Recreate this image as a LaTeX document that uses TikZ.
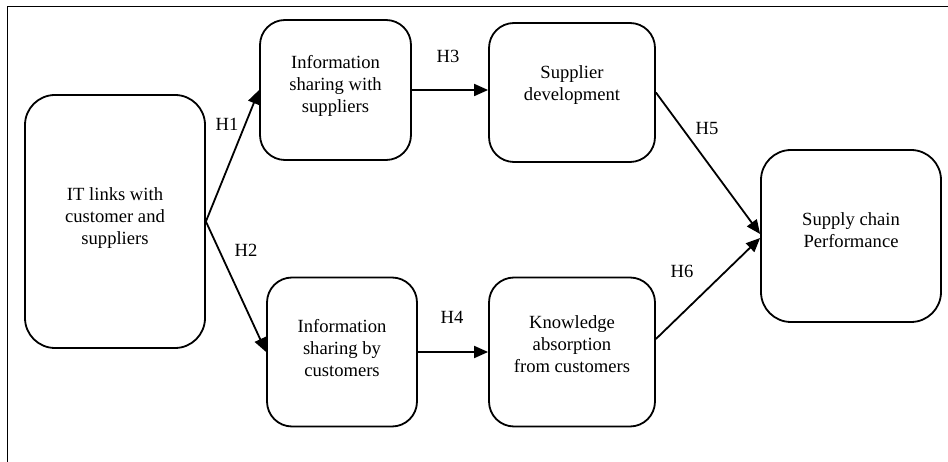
\documentclass[tikz,border=0pt]{standalone}
\usepackage{fontspec}
\setmainfont{Liberation Serif}
\usetikzlibrary{arrows.meta}
\tikzset{
  box/.style={draw, line width=1.8pt, rounded corners=25pt, inner sep=0pt},
  txt/.style={align=center, font=\fontsize{18.6}{22}\selectfont, inner sep=0pt},
  hlab/.style={font=\fontsize{18.6}{22}\selectfont, inner sep=0pt},
  conn/.style={line width=1.8pt, -{Triangle[length=14pt,width=12pt]}},
  frameline/.style={line width=1pt}
}
\begin{document}
\begin{tikzpicture}[x=1pt,y=-1pt]
\useasboundingbox (0,0) rectangle (948,462);
% frame
\coordinate (f1) at (7.5,462);
\coordinate (f2) at (7.5,6.5);
\coordinate (f3) at (948,6.5);
\draw[frameline] (f1) -- (f2) -- (f3);
% boxes
\node[box, rounded corners=30pt, minimum width=180pt, minimum height=253pt] (A) at (115,221.5) {};
\node[txt] (At) at (115,218) {IT links with\\customer and\\suppliers};
\node[box, minimum width=151pt, minimum height=140pt] (B) at (335.5,90) {};
\node[txt] (Bt) at (335.5,86) {Information\\sharing with\\suppliers};
\node[box, minimum width=150pt, minimum height=149pt] (C) at (342,352) {};
\node[txt] (Ct) at (342,348) {Information\\sharing by\\customers};
\node[box, minimum width=166pt, minimum height=139pt] (D) at (572,92.5) {};
\node[txt] (Dt) at (572,85) {Supplier\\development};
\node[box, minimum width=166pt, minimum height=149pt] (E) at (572,352) {};
\node[txt] (Et) at (572,344) {Knowledge\\absorption\\from customers};
\node[box, rounded corners=30pt, minimum width=180pt, minimum height=172pt] (F) at (851,236) {};
\node[txt] (Ft) at (851,230) {Supply chain\\Performance};
% connectors
\draw[conn] (A.east) -- (B.west);
\draw[conn] (A.east) -- (C.west);
\draw[conn] (B.east) -- (B.east -| D.west);
\draw[conn] (C.east) -- (E.west);
\draw[conn] (D.east) -- ([yshift=2pt]F.west);
\draw[conn] ([yshift=13pt]E.east) -- ([yshift=-2pt]F.west);
% labels
\node[hlab] (h1) at (227,124) {H1};
\node[hlab] (h2) at (246,250) {H2};
\node[hlab] (h3) at (448,56) {H3};
\node[hlab] (h4) at (452,317) {H4};
\node[hlab] (h5) at (707,129) {H5};
\node[hlab] (h6) at (682,271) {H6};
\end{tikzpicture}
\end{document}
